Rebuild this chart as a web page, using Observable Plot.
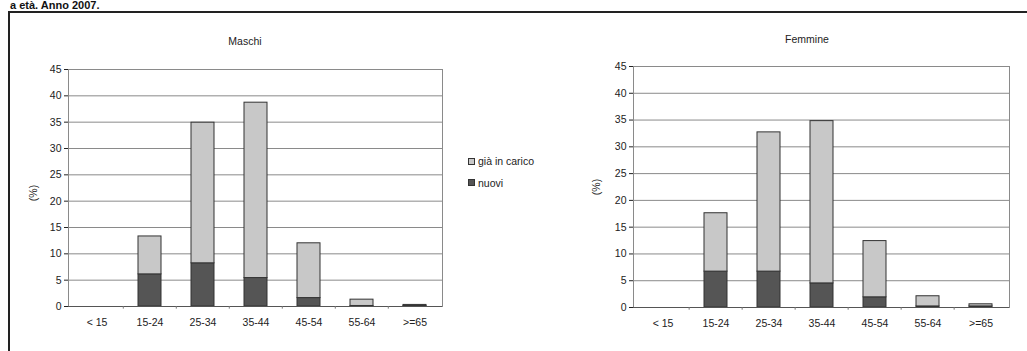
<!DOCTYPE html>
<html>
<head>
<meta charset="utf-8">
<script src="https://cdn.jsdelivr.net/npm/d3@7"></script>
<script src="https://cdn.jsdelivr.net/npm/@observablehq/plot@0.6"></script>
<style>
  html, body { margin: 0; padding: 0; background: #fff; }
  #wrap { position: relative; width: 1027px; height: 351px; overflow: hidden; background: #fff;
          font-family: "Liberation Sans", Arial, sans-serif; color: #222; }
  .abs { position: absolute; }
  #topTitle { left: 10px; top: -1px; font-size: 11px; font-weight: bold; line-height: 12px; white-space: nowrap; color: #111; }
  #frame { left: 8px; top: 11px; width: 1040px; height: 360px; border-left: 2px solid #222; border-top: 2px solid #222; }
  .ptitle { font-size: 10.5px; transform: translate(-50%, -50%); white-space: nowrap; color: #222; }
  .ylab { font-size: 10.5px; transform: translate(-50%, -50%) rotate(-90deg); white-space: nowrap; color: #222; }
  .leg { font-size: 10.5px; white-space: nowrap; color: #222; display: flex; align-items: center; transform: translateY(-50%); }
  .sw { width: 5px; height: 5px; border: 1px solid #333; margin-right: 3px; }
</style>
</head>
<body>
<div id="wrap">
  <div id="topTitle" class="abs">a età. Anno 2007.</div>
  <div id="frame" class="abs"></div>
  <div id="left" class="abs" style="left:0;top:0"></div>
  <div id="right" class="abs" style="left:520px;top:0"></div>
  <div class="abs ptitle" style="left:245px;top:41px">Maschi</div>
  <div class="abs ptitle" style="left:807px;top:39px">Femmine</div>
  <div class="abs ylab" style="left:33px;top:193px">(%)</div>
  <div class="abs ylab" style="left:596px;top:187px">(%)</div>
  <div id="legend"></div>
</div>
<script>
// ---- data ----
const ageGroups = ["< 15", "15-24", "25-34", "35-44", "45-54", "55-64", ">=65"];
const series = ["già in carico", "nuovi"];
const maschiNuovi = [0, 6.1, 8.2, 5.4, 1.6, 0.1, 0.1];
const maschiGiaInCarico = [0, 7.2, 26.7, 33.3, 10.4, 1.2, 0.2];
const femmineNuovi = [0, 6.7, 6.7, 4.5, 1.9, 0.2, 0.2];
const femmineGiaInCarico = [0, 10.9, 26.0, 30.3, 10.5, 1.9, 0.4];
const yTicks = [0, 5, 10, 15, 20, 25, 30, 35, 40, 45];
const seriesColors = ["#c8c8c8", "#555555"];

function panel(nuovi, gia, cfg) {
  const data = [];
  ageGroups.forEach((g, i) => {
    data.push({age: g, serie: "nuovi", v: nuovi[i]});
    data.push({age: g, serie: "già in carico", v: gia[i]});
  });
  const innerW = cfg.width - cfg.marginLeft - cfg.marginRight;
  const step = innerW / ageGroups.length;
  return Plot.plot({
    width: cfg.width,
    height: cfg.height,
    marginLeft: cfg.marginLeft,
    marginRight: cfg.marginRight,
    marginTop: cfg.marginTop,
    marginBottom: cfg.marginBottom,
    style: {fontFamily: "'Liberation Sans', Arial, sans-serif", fontSize: "10.5px", color: "#222", background: "transparent", overflow: "visible"},
    x: {domain: ageGroups, paddingInner: 0.57, paddingOuter: 0.285, label: null, tickSize: 0, tickPadding: 12},
    y: {domain: [0, 45], ticks: yTicks, tickSize: 4, tickPadding: 3, label: null, line: true},
    color: {domain: series, range: seriesColors},
    marks: [
      Plot.frame({stroke: "#8a8a8a"}),
      Plot.ruleY(yTicks.filter(d => d > 0), {stroke: "#8a8a8a", strokeWidth: 1}),
      Plot.barY(data, {x: "age", y: "v", fill: "serie", stroke: "#333", strokeWidth: 1, order: ["nuovi", "già in carico"]}),
      Plot.ruleY([0], {stroke: "#555"}),
      Plot.ruleX(ageGroups.slice(1), {x: d => d, dx: -step / 2, y1: 0, y2: -0.5, stroke: "#777"})
    ]
  });
}

document.getElementById("left").appendChild(panel(maschiNuovi, maschiGiaInCarico,
  {width: 500, height: 351, marginLeft: 68, marginRight: 58, marginTop: 69, marginBottom: 45}));
document.getElementById("right").appendChild(panel(femmineNuovi, femmineGiaInCarico,
  {width: 507, height: 351, marginLeft: 113, marginRight: 18, marginTop: 66, marginBottom: 44}));

// legend
const leg = document.getElementById("legend");
series.forEach((s, i) => {
  const d = document.createElement("div");
  d.className = "abs leg";
  d.style.left = "468px";
  d.style.top = (161 + i * 21.5) + "px";
  d.innerHTML = `<span class="sw" style="background:${seriesColors[i]}"></span><span>${s}</span>`;
  leg.appendChild(d);
});
</script>
</body>
</html>
